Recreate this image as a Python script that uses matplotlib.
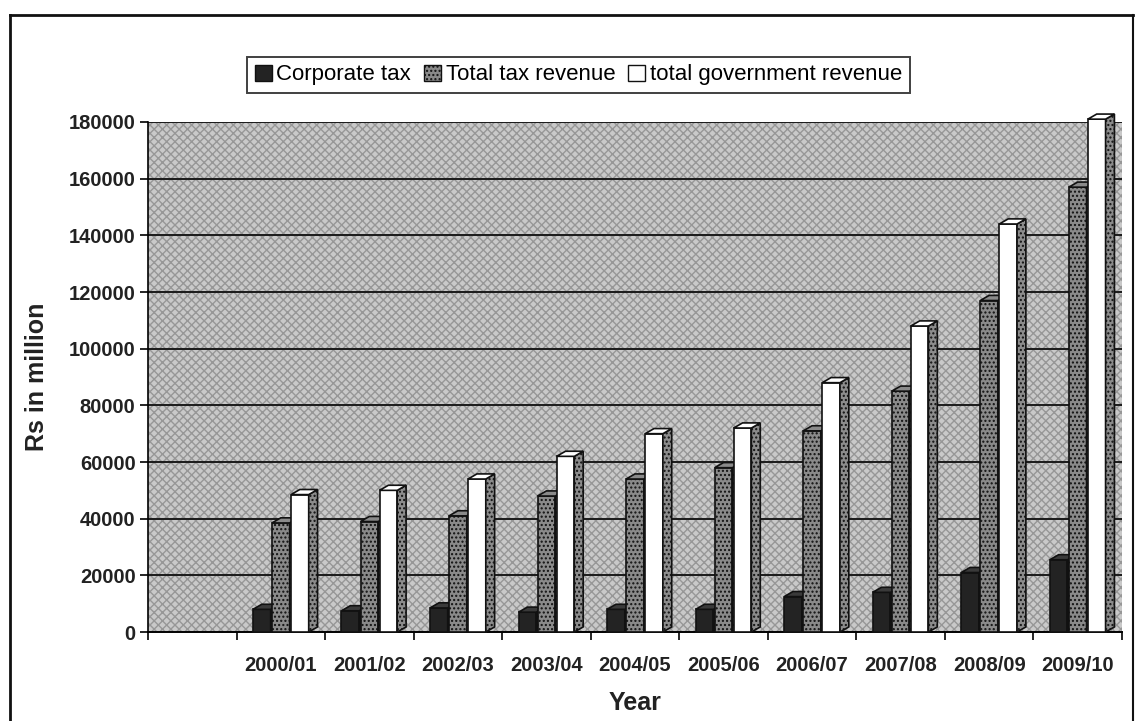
import numpy as np
import matplotlib
matplotlib.use("Agg")
import matplotlib.pyplot as plt
from matplotlib.patches import Patch, Rectangle, Polygon
from matplotlib.lines import Line2D

plt.rcParams['font.family'] = ['Liberation Sans', 'DejaVu Sans']
plt.rcParams['hatch.linewidth'] = 1.0

years = ['2000/01', '2001/02', '2002/03', '2003/04', '2004/05',
         '2005/06', '2006/07', '2007/08', '2008/09', '2009/10']
corporate_tax = [8000, 7500, 8500, 7000, 8000, 8000, 12500, 14000, 21000, 25500]
total_tax = [38500, 39000, 41000, 48000, 54000, 58000, 71000, 85000, 117000, 157000]
total_gov = [48500, 50000, 54000, 62000, 70000, 72000, 88000, 108000, 144000, 181000]

# name, values, front colour, hatch, side colour, side hatch
series = [
    ('Corporate tax', corporate_tax, '#232323', None, '#111111', None),
    ('Total tax revenue', total_tax, '#8a8a8a', '....', '#5a5a5a', '....'),
    ('total government revenue', total_gov, '#ffffff', None, '#8c8c8c', '....'),
]

fig = plt.figure(figsize=(11.35, 7.21), dpi=100)
ax = fig.add_axes([0.1304, 0.1234, 0.8581, 0.7074])

# back wall with a dotted texture
ax.set_facecolor('#c9c9c9')
wall = Rectangle((0, 0), 1, 1, transform=ax.transAxes, facecolor='none',
                 edgecolor='#979797', hatch='xxxx', lw=0, zorder=0)
ax.add_patch(wall)

ax.set_xlim(-0.5, 10.5)
ax.set_ylim(0, 180000)
yticks = np.arange(0, 180001, 20000)
for v in yticks[1:]:
    ax.axhline(v, color='#1a1a1a', lw=1.4, zorder=1)

pos = np.arange(1, len(years) + 1)
width = 0.2
offsets = [-0.215, 0.0, 0.215]
dx, dy = 0.1, 1800  # depth of the 3d faces

for (name, vals, face, hatch, side, side_hatch), off in zip(series, offsets):
    for x, v in zip(pos + off, vals):
        x0, x1 = x - width / 2, x + width / 2
        ax.bar(x, v, width=width, color=face, edgecolor='#111111', lw=1.2,
               hatch=hatch, zorder=3, clip_on=False)
        side_face = Polygon([(x1, 0), (x1 + dx, dy), (x1 + dx, v + dy), (x1, v)],
                            closed=True, facecolor=side, edgecolor='#111111',
                            lw=1.2, hatch=side_hatch, zorder=3, clip_on=False)
        top_face = Polygon([(x0, v), (x0 + dx, v + dy), (x1 + dx, v + dy), (x1, v)],
                           closed=True, facecolor=face if face != '#232323' else '#3a3a3a',
                           edgecolor='#111111', lw=1.2, zorder=3, clip_on=False)
        ax.add_patch(side_face)
        ax.add_patch(top_face)

ax.set_yticks(yticks)
ax.set_yticklabels([str(v) for v in yticks], fontsize=14.5, fontweight='bold',
                   color='#222222')
ax.set_xticks(pos)
ax.set_xticklabels(years, fontsize=14.5, fontweight='bold', color='#222222')
ax.set_xticks(np.arange(-0.5, 10.6, 1), minor=True)
ax.tick_params(axis='x', which='major', length=0, pad=17)
ax.tick_params(axis='x', which='minor', length=6, width=1.2, direction='out')
ax.tick_params(axis='y', length=6, width=1.2, direction='out', pad=3)

for s in ['top', 'right']:
    ax.spines[s].set_visible(False)
ax.spines['left'].set_linewidth(1.2)
ax.spines['bottom'].set_linewidth(1.4)

ax.set_ylabel('Rs in million', fontsize=18, fontweight='bold', labelpad=14,
              color='#222222')
ax.set_xlabel('Year', fontsize=18, fontweight='bold', labelpad=12, color='#222222')

handles = [Patch(facecolor=s[2], edgecolor='#111111', hatch=s[3], label=s[0])
           for s in series]
leg = fig.legend(handles=handles, loc='center', bbox_to_anchor=(0.5097, 0.896),
                 ncol=3, fontsize=16, frameon=True, fancybox=False,
                 handlelength=0.75, handleheight=0.75, handletextpad=0.2,
                 columnspacing=0.6, borderpad=0.35)
leg.get_frame().set_edgecolor('#111111')
leg.get_frame().set_linewidth(1.4)

# outer frame of the chart
fig.add_artist(Line2D([0.009, 0.009], [0, 0.979], color='#111111', lw=2,
                      transform=fig.transFigure))
fig.add_artist(Line2D([0.009, 0.998], [0.979, 0.979], color='#111111', lw=2,
                      transform=fig.transFigure))
fig.add_artist(Line2D([0.998, 0.998], [0, 0.979], color='#111111', lw=1.5,
                      transform=fig.transFigure))

fig.savefig('out.png', dpi=100)
